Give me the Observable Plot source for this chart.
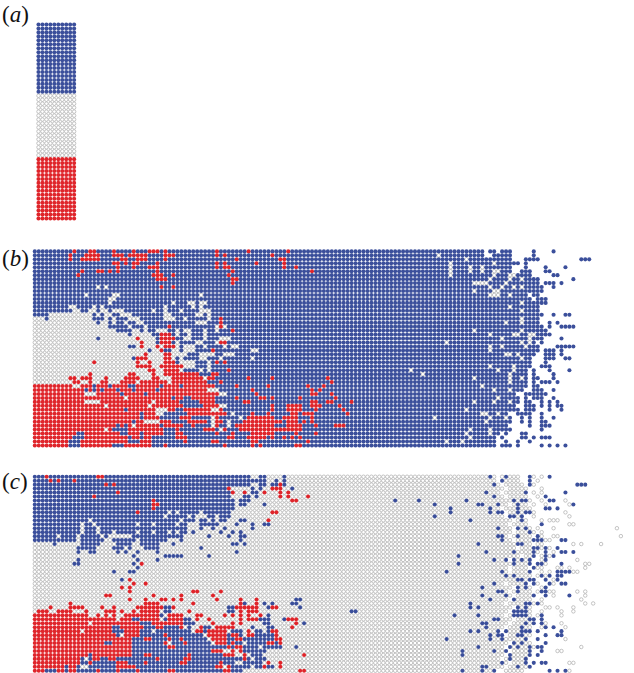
<!DOCTYPE html>
<html><head><meta charset="utf-8">
<script src="https://cdn.jsdelivr.net/npm/d3@7"></script>
<script src="https://cdn.jsdelivr.net/npm/@observablehq/plot@0.6"></script>
<style>html,body{margin:0;padding:0;background:#fff}svg{display:block}</style>
</head><body><div id="chart"></div>
<script>
// Each row lists painted cell runs: letter + column or column range (later runs paint over earlier ones).
// b = blue, r = red, g = open grey.
const panelLabels = ["(a)", "(b)", "(c)"];
const aBands = [["b0-9", 18], ["g0-9", 16], ["r0-9", 16]];
const aRows = aBands.flatMap(([run, n]) => Array(n).fill(run));
const bRows = [
"b0-113 b115-116 b118-120 b126 b131 r10 r14-15 r20 r25 r29-31 r33 r46 r54 r64",
"b0-113 g102 b116-117 b118-120 b126 r9 r13-16 r20-22 r24-28 r33-35 r46 r48 r60",
"b0-114 g109 b115-120 b124-127 b138-140 r9 r12-14 r15-16 r22-23 r26-28 r33 r51 r62-63",
"b0-121 g105 g116 b122 b124 r20-21 r23 r25-26 r31 r46 r48 r56 r63",
"b0-120 g105 g110 g113 b124 b129 b134 r21 r25 r29-31 r46 r48-49 r63 r66",
"b0-120 g105 g110 g113 g116-117 b123-125 b129-130 r12 r16-17 r19 r21 r31 r50 r70",
"b0-125 g105 g116 g120-121 b131-132 r11 r30-32 r35 r49",
"b0-127 g115 g120 g123 b136 r31-33 r50-51",
"b0-127 g111 g112-114 g119 b129-131 b133 r50",
"b0-128 g115 g118 g121 g123 b131 g16 g18 r32 r35",
"b0-128 g111 g116-117",
"b0-124 g115-117 g120 b126-127 g13 g20-21 g42",
"b0-125 b127-129 g19-20",
"b0-126 g123 b127-129 g19 g35 g39-40 g42-43",
"b0-127 g120 g9-10 g15 g17 g33 g40 g42",
"b0-127 g123 g10-11 g14-15 g17-18 g20-22 g30 g33 g37 g42-43 g44",
"b0-128 b131 b134-135 g4-14 g16 g18-19 g22-24 g33-34 g41-42 g44",
"b0-127 g0-2 g4-14 g18 g20 g24-26 g33-35 g38 g44 g123 r47",
"b0-127 b130 b132 g0-15 g17-18 g20 g23 g26-27 g41-43 g119 g123 r47",
"b0-128 b130 b133-135 b136 g0-18 g24 g28 g34 g46-48 r34 r47",
"b0-129 g0-20 g25-26 g28 g31-33 g36 g38-39 g43 g46 g111 g123 r50",
"b0-130 g0-23 g25-29 g36 g39 g43 g115 g121-122 g125-126 r32-34",
"b0-128 b133 g0-25 b16 g27-30 g38-39 g43 g47-49 g118 g125 r26 r32-35",
"b0-126 b128 g0-26 g28-30 g36 g41-42 g46 g104 g123 g125 r27 r32-34 r47-48",
"b0-127 b132-136 g0-23 g26 g28-30 g32-36 g38-40 g43 g48 g50-51 g115 g118 g124 r27 r31 r33-35",
"b0-127 b129-131 b133 g0-28 g30-31 g35-36 g38-40 g115 g55-56 r32 r45",
"b0-126 b129-131 b133 g0-27 g29-32 g35-38 g42-43 g48-50 g44-45 g119-120 g122 r28 r33-34",
"b0-125 b129-131 b134-135 g0-24 g29-32 g35 g37 g42-43 g47 g55 g123 r26-28 r33-34",
"b0-125 b129 g0-25 g27-28 g30-32 g37-40 g44 r15 r26 r29 r33-34 r35 r46 r48",
"b0-125 b128-130 g0-25 g29-31 g38-40 g44 g115 g121 r26-28 r29 r32-37",
"b0-124 b126 b130 b135 g0-28 g31-33 g36-37 g42 g44 g117 g121 g95 r29-30 r33-34 r35-36 r49",
"b0-124 b126 b131 g0-23 g26-29 g31-32 g98 g120 r14 r24-25 r30 r33-41 r45-46",
"b0-124 b126-127 b131 g0-8 g11 g15-17 g19-22 g27-29 g32-34 g43 g111 g120 g123 r9-10 r12-14 r18 r23-26 r30-31 r35-42 r44-45 r54 r60 r74",
"b0-124 b126 b128-130 b132 g0-9 g12-13 g15-16 g19-21 g26 g34 g43 g120 r10-11 r14 r17-18 r22-25 r27-33 r35-43 r47 r75",
"b0-124 b126-127 g10-11 g113 r0-9 r12-13 r14 r16-18 r20-23 r26-31 r33-36 r38-44 r45 r51 r59 r69 r73",
"b0-123 b126-128 b131 g116 g120 r0-12 r14 r16 r18-20 r22-24 r26-30 r32-37 r38-43 g44-46 r55 r70 r72",
"b0-121 b124-129 g13-15 r0-12 r16-21 r23-27 r29-36 r37-42 g47-48 r43-46 r56 r70-71 r75",
"b0-121 b122 b124 b126-128 b131 g117 r0-12 r13-15 r16-34 g23 r36-44 b38-39 r45 r51 r57-58 r60 r67 r76",
"b0-122 b124-125 b128 b130 b132 g111 g116 g120 g13-16 r0-12 r17-36 g30 b39-41 r42-45 r53-54 r70-71 r74-75 r80",
"b0-121 b124-126 b128 b130 b132-133 g18 g29 r0-17 r19-28 r30-37 b40-42 r43-46 g47-48 r60 r64-67 r70-72 r77",
"b0-122 b124-126 b130 b133 g109 r0-22 r24-31 g31-33 r34-36 b36-37 r38-44 g45-46 r47 r60 r64-67 r71 r78",
"b0-119 b122-125 b128 g113-114 g117 r0-26 r28-30 g31-32 b36-38 r39-48 g50 r55 r59 r65-66 r68-70 r79",
"b0-120 b123 b125 b128 b131 g101 g115 g119 r0-26 r28-31 b32-36 r37-39 b41-44 g45 r46 g52 r54-60 r63-66 r70",
"b0-120 b123 b125 b128-129 g114 r0-24 r26-27 g28-31 r32-35 b35-38 r39-43 g45 r46-47 g49 r53-60 r61-62 r64-66 r68 r70",
"b0-119 b125 b128-130 r0-24 b21 b23 g25 r26-31 b32 r33-37 b38-39 r40 b41-43 g45 r46 g49 r51-60 r64-67 r71 r76-78",
"b0-120 b128 g110 g115 r0-17 g18 r19-20 b20-21 b23 r24-32 b33 b35 r36 b37-42 r43-44 g47 r45 r48 r52-61 r62-67",
"b0-117 b119 b123-124 g109 g115 r0-10 b11-12 r13-22 b22-23 r24-26 b27 r28-32 b33-35 r36-37 b38-44 r46 r50 r55-60 r66 r71",
"b0-116 b118 b123-124 b126 b128-130 g110 r0-9 b10-12 r13-23 b24 r25-26 b27 r28-30 b30-35 r36-38 b39-44 r49-50 r54-58 r60 r63 r65 r67",
"b0-116 b119 b122 b125 g104 g108 r0-8 b9-11 r12-23 b24-26 r27-29 b30 b31-34 b35-37 r38 b40-44 r45-46 r55-56 r69",
"b0-116 b118-120 b122 b128 b130 b132 b134 r0-8 b9-11 r12-19 b20-22 r23-29 b30-32 r33 b35-44 r48 r55 r57 r66-67"
];
const cRows = [
"g0-116 g118-122 g125-126 g128 g130 b0-54 b57-58 b63 r3 r16-17 b115 b119 b125 b130",
"g0-116 g118-122 g125 g127 b0-54 b55-58 b61 b63 r4 r6 r10 b118 b125",
"g0-117 g119-123 g125-126 b0-54 b57-58 b60-62 b63 r18 r20 r62 b116 b125 b137-139",
"g0-118 g120-124 g128 b0-48 b55 b57 b65 r49 r60-62",
"g0-117 g119-123 g126 g128 b0-50 b55-56 b114 b124 b134 r21 r50 r53 r58 r62 r64",
"g0-118 g120-124 g127 b0-49 b53-54 b56 b116 b129 r15 r62 r64 r69",
"g0-120 g122-125 g128 g134 b0-50 b52-54 b91 b97 b109 b121 b123-124 b130-131 r30 r65-66",
"g0-119 g121-124 g126 g129 g135 b0-50 b52-53 b58 b101 b112-113 b117 b122 b136 r30-31",
"g0-117 g119-125 b0-50 b105 b115 b122 b129-130 b132 r30",
"g0-118 g120-124 g126 g134 b0-49 g34 g36 g42 b105 b115 b117-118 b122 b124-125 r26 r60-61",
"g0-118 g120-123 g126 g135 b0-49 g33 g39 g41-43 g46 b101 b120-121 b123",
"g0-120 g122-124 g128 g130-132 b0-48 g14 g37 g41 g44 g46 b52-53 b110 b123 r59",
"g0-119 g121-124 g128 g135-136 b0-45 g12 g15 g26 g30 g36 g39-41 b46 b51 b55 b58-59 b128",
"g0-120 g122-125 g127 g131 g147 b0-38 g12 g16 b42 b45 b48 b55 b117 b122 b124",
"g0-120 g122-124 g126 g128 b0-38 g12 g16 g20 g26 g30 g34 g36 b40 b47 b50 b52 b125",
"g0-119 g121-125 g128 g131-132 g148 b0-37 g6 g11 g17 g19-24 b44 b49 b52-53 b117-118 b122 b127",
"g0-120 g122-125 g129-130 g133 b0-10 b12-17 b20-25 b27-33 b37 b52 b118 b126-128 b133-134",
"g0-121 g123-125 g127-128 g136 g138 g143 b5 b12-16 b21-24 b27-31 b35 b50-51 b53 b112 b122-123",
"g0-121 g123-125 g128 g130 b11-15 b20-22 b24 b28-31 b42 b126-127 b129 b132",
"g0-120 g122-125 g127 g131 b11 b14-15 b21 b23 b26 b31 b51 b114 b121 b126 b129 b133-134 b136",
"g0-122 g124-126 g128 g130 b25 b33-37 b44 b107 b126 b129 b131",
"g0-119 g121-125 g128 g137 b11 b26 b31 b116 b119 b121 b123 b125 b129",
"g0-120 g122-125 g129 g139-140 b10-11 b25 b107 b121 b125 b127-128 b133 r27",
"g0-119 g121-124 g127-128 g132-133 g135 g139 b26 b126",
"g0-119 g121-125 g128 g130 g136-137 b20 b24-25 b104 b118 b125 b132-135",
"g0-120 g122-125 g127-129 b119 b121 b128 b130 b132-133",
"g0-121 g123-126 g129 g131 b22 b122-123 b125-126 b129 b132 r24",
"g0-118 g120-124 g127 g131 g133 b116 b124 b126 b130 b133-134 r25 r28",
"g0-120 g122-125 g128-129 b113 b122 b124 b129 r22 r24",
"g0-119 g121-125 g127 g130-131 g137 g139 b117-118 b122 b128-129 r24 r40-41 r47",
"g0-120 g122-125 g129 g131 g139 b113 b119 b126 b129 b135 r18-19 r30 r37 r45",
"g0-119 g121-125 g128 g138 b115 b121 r24 r28 r32-33 r35 r37 r46 r52 r56 b66-67",
"g0-118 g120-126 g128 g139 g141 b110 b124-125 b127 r9 r28-31 r40 r52 b53 r56 b58 b60 b65-66",
"g0-120 g122-125 g129-130 g132 g136 b110 b112 b122 b124 r4 r9-12 r17 r20 r26-32 b33-34 r35 r51-56 r60-61 b67 b49-50 b59",
"g0-119 g121-125 g128 g133 g136 b80-81 b121-124 r1-3 r6-9 r13 r18-20 r22 r25 r27-31 b33-34 r39 b49-50 r52 r54-56",
"g0-118 g120-125 g127 g133 b106 b112 b121-123 b124 b128 r0-12 r13 r16 r18 r20 r23-25 r26-32 b32 r34-37 r41-42 r48 r50 r52 r54 r57 b59",
"g0-120 g122-125 g128 b116-117 b125-126 b128 r0-13 r14-17 r18-20 r22-24 b25-27 r27-30 r31 b33 r34-37 b38-39 r41 r44 r52 r54-57 b57-59 b63-64 r64-66",
"g0-119 g121-126 g129 g133 b113-114 b124 b126 b128 r0-13 r15-17 r18-24 r25-26 b27-29 r30-37 b38-40 r45 r50 r52 b58-59 r66 b68",
"g0-118 g120-125 g128 g134 b114 b123 b129 b131 r0-27 b20-21 r28-32 b28-30 b33-36 r37 b39 r42 b43-44 r46-50 b55 b59-60 r65",
"g0-117 g119-124 g127 b110 b112 b117 b119 b123-125 b127 b133 r0-27 g12 b20-22 b27-29 b31-39 r41-44 b43 r45-48 b50-52 r54 b56-57 b59 r60-61",
"g0-118 g120-125 b115 b117-118 b122-123 b129 b132-133 r0-27 b21 g22 b27-30 g31 b31-37 r33 b38-42 r44-45 r46-48 b49 r50-51 b52 r54-56 b56-60 r61",
"g0-117 g119-124 g134 b104 b115 b118 b124 b127 r0-25 b25-34 r28-29 r34-35 b35-43 r37 r45-48 b49-54 r51-52 b55-60 r61-62",
"g0-119 g121-125 b121 b123 b129 r0-24 b18-19 b25-33 b35-44 r33 r38 g45 r46 r47-48 b49-52 r50 g53 b54-62 r59-60 r62",
"g0-118 g120-124 g126 g138 b112 b120 b122 b125 b127-128 r0-24 b25-33 b35-50 r34-35 r49 r51 b53-56 r52 b58-62 b66",
"g0-119 g121-125 g132-133 b108 b116 b119 b125 b128 r0-24 b25-45 r45-47 r50 r52 b53-58",
"g0-118 g120-125 b108 b120 b125 b127 r0-13 b14 r15-24 b25-50 r28-29 r39 r48-50 r53 b55-57 r68",
"g0-117 g119-124 b120 b124 r0-11 b12 b14 r15-17 b17-24 r19-20 b25-49 r31 r38-39 b50-54 r53 b56-58",
"g0-119 g121-124 g135-136 b118 b124 b126 b128-129 r0-11 b12-13 r14 b15-20 r21-23 b24-50 r28 r37-38 r47 b53-57 r59 r62",
"g0-118 g120-124 b113-114 b122 b125 r0-7 b8 r9-11 b11 b14-20 r21-25 b26-46 r46-47 r49 b50-54 b56-57 r58 b59-60 r62",
"g0-116 g119-123 g135 b108 b113 b116 b130 b132 b134 r0-2 b3-5 r6-7 b8 r9-11 b11-52 r16 r21 r26 r34-35 r48 r49 r67-68"
];

const panels = [
  {panel: "a", rows: aRows, col0: 0.73, row0: 0},
  {panel: "b", rows: bRows, col0: -0.2, row0: 57.3},
  {panel: "c", rows: cRows, col0: -0.2, row0: 114.2}
];

function parseRow(text) {
  const cells = new Map();
  for (const t of text.trim().split(/\s+/)) {
    const [from, to = from] = t.slice(1).split("-").map(Number);
    for (let c = from; c <= to; c++) cells.set(c, t[0]);
  }
  return cells;
}
const cells = [];
for (const p of panels) p.rows.forEach((text, row) => {
  for (const [col, state] of parseRow(text)) cells.push({col: col + p.col0, row: row + p.row0, state});
});

const step = 3.96, originX = 35.1, originY = 24;
const plot = Plot.plot({
  width: 634, height: 673, margin: 0,
  x: {domain: [-originX / step, (634 - originX) / step], range: [0, 634], axis: null},
  y: {domain: [-originY / step, (673 - originY) / step], range: [0, 673], axis: null},
  color: {domain: ["b", "r"], range: ["#3b4f9b", "#df252b"]},
  marks: [
    Plot.dot(cells.filter(d => d.state === "g"), {x: "col", y: "row", r: 1.75, stroke: "#a6a6a6", strokeWidth: 0.65, fill: "white"}),
    Plot.dot(cells.filter(d => d.state !== "g"), {x: "col", y: "row", r: 2.05, fill: "state"}),
    Plot.text(panelLabels, {
      x: (d, i) => (1.5 - originX) / step,
      y: (d, i) => [(21 - originY) / step, (265 - originY) / step, (488 - originY) / step][i],
      text: d => d, textAnchor: "start", lineAnchor: "bottom",
      fontFamily: "Liberation Serif", fontSize: 23, fill: "#111"
    })
  ]
});
// Upright brackets with an italic letter, as in the reference labels.
d3.select(plot).selectAll("text").filter(function () { return /^\([abc]\)$/.test(this.textContent); })
  .each(function () {
    const s = this.textContent; this.textContent = "";
    d3.select(this).append("tspan").text("(");
    d3.select(this).append("tspan").attr("font-style", "italic").text(s[1]);
    d3.select(this).append("tspan").text(")");
  });
document.getElementById("chart").append(plot);
</script></body></html>
